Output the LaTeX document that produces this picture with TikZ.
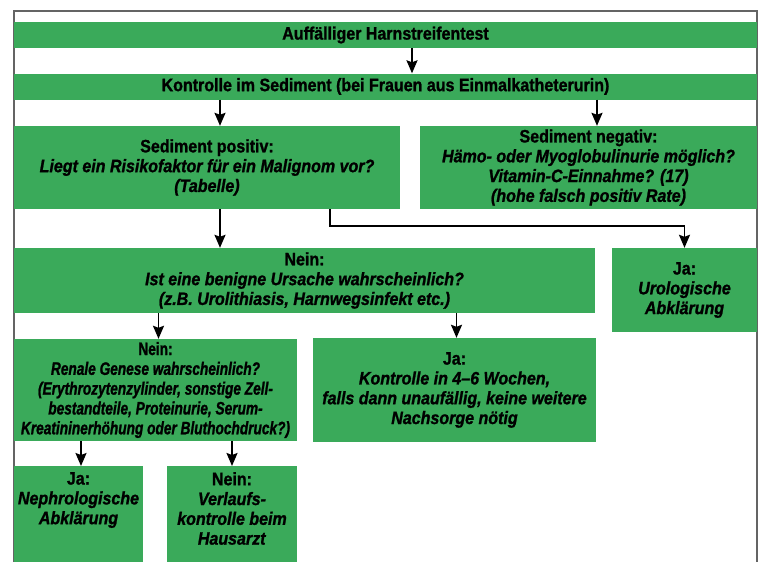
\documentclass[tikz,border=0pt]{standalone}
\usepackage{fontspec}
\setmainfont{Liberation Sans}[FakeStretch=0.89, BoldFeatures={FakeBold=1.2}, BoldItalicFeatures={FakeBold=1.2}]
\newfontfamily\schmal{Liberation Sans}[FakeStretch=0.76, BoldFeatures={FakeBold=1.2}, BoldItalicFeatures={FakeBold=1.2}]
\usetikzlibrary{positioning,arrows.meta}

\definecolor{gruen}{RGB}{58,170,90}
\definecolor{rahmen}{RGB}{100,100,100}

\tikzset{
	feld/.style={fill=gruen, inner sep=0pt, align=center, font=\bfseries\fontsize{18}{19.8}\selectfont},
	pfeil/.style={line width=1.8pt, -{Stealth[length=13pt,width=11pt,inset=2pt]}},
}

\begin{document}
\begin{tikzpicture}[x=1pt,y=-1pt]
	\useasboundingbox (0,0) rectangle (764,562);
	\draw[rahmen, line width=1.5pt] (14,562) -- (14,11) -- (757,11) -- (757,562);

	\node[feld, minimum width=743, minimum height=26] (test) at (385.5,35) {Auffälliger Harnstreifentest};
	\node[feld, minimum width=743, minimum height=26] (sediment) at (385.5,86.5) {Kontrolle im Sediment (bei Frauen aus Einmalkatheterurin)};

	\node[feld, minimum width=386, minimum height=83] (positiv) at (207,167.5) {Sediment positiv:\\ \textit{Liegt ein Risikofaktor für ein Malignom vor?}\\ \textit{(Tabelle)}};
	\node[feld, minimum width=337, minimum height=83] (negativ) at (588.5,167.5) {Sediment negativ:\\ \textit{Hämo- oder Myoglobulinurie möglich?}\\ \textit{Vitamin-C-Einnahme? (17)}\\ \textit{(hohe falsch positiv Rate)}};

	\node[feld, minimum width=581, minimum height=65] (benigne) at (304.5,280.5) {Nein:\\ \textit{Ist eine benigne Ursache wahrscheinlich?}\\ \textit{(z.B. Urolithiasis, Harnwegsinfekt etc.)}};
	\node[feld, minimum width=145, minimum height=84] (urolog) at (684.5,290) {Ja:\\ \textit{Urologische}\\ \textit{Abklärung}};

	\node[feld, minimum width=283, minimum height=102, font=\schmal\bfseries\fontsize{18}{19.8}\selectfont] (renal) at (155.5,390) {Nein:\\ \textit{Renale Genese wahrscheinlich?}\\ \textit{(Erythrozytenzylinder, sonstige Zell-}\\ \textit{bestandteile, Proteinurie, Serum-}\\ \textit{Kreatininerhöhung oder Bluthochdruck?)}};
	\node[feld, minimum width=283, minimum height=104] (kontrolle) at (454.5,390) {Ja:\\ \textit{Kontrolle in 4--6 Wochen,}\\ \textit{falls dann unaufällig, keine weitere}\\ \textit{Nachsorge nötig}};

	\node[feld, anchor=north, minimum width=129, inner ysep=6pt, text depth=100pt] (nephro) at (78.5,466) {Ja:\\ \textit{Nephrologische}\\ \textit{Abklärung}};
	\node[feld, anchor=north, minimum width=130, inner ysep=6pt, text depth=100pt] (hausarzt) at (232,466) {Nein:\\ \textit{Verlaufs-}\\ \textit{kontrolle beim}\\ \textit{Hausarzt}};

	\draw[pfeil] ([xshift=26.5]test.south) -- ([xshift=26.5]sediment.north);
	\draw[pfeil] ([xshift=13]positiv.north |- sediment.south) -- ([xshift=13]positiv.north);
	\draw[pfeil] ([xshift=8.5]negativ.north |- sediment.south) -- ([xshift=8.5]negativ.north);

	\draw[pfeil] ([xshift=13]positiv.south) -- ([xshift=13]positiv.south |- benigne.north);
	\draw[pfeil] ([xshift=123]positiv.south) -- ++(0,17) -| (urolog.north);

	\draw[pfeil] ([xshift=3]renal.north |- benigne.south) -- ([xshift=3]renal.north);
	\draw[pfeil] ([xshift=2]kontrolle.north |- benigne.south) -- ([xshift=2]kontrolle.north);

	\draw[pfeil] ([xshift=2.5]nephro.north |- renal.south) -- ([xshift=2.5]nephro.north);
	\draw[pfeil] (hausarzt.north |- renal.south) -- (hausarzt.north);

\end{tikzpicture}
\end{document}
